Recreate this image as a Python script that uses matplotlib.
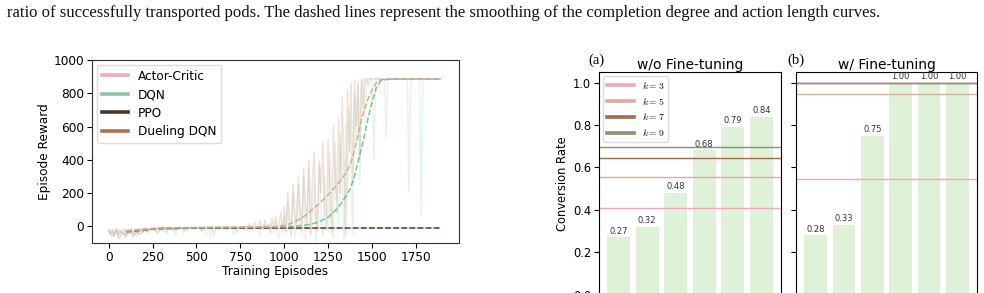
import numpy as np
import matplotlib
matplotlib.use("Agg")
import matplotlib.pyplot as plt
from matplotlib.lines import Line2D

plt.rcParams['font.family'] = ['DejaVu Sans']
plt.rcParams['mathtext.fontset'] = 'cm'

# ---------------- data: left panel ----------------
series_names = ["Actor-Critic", "DQN", "PPO", "Dueling DQN"]
series_colors = ["#f2a9c2", "#86c9a0", "#4a3828", "#b66d4a"]

raw_step_dqn = 10
dqn_raw = [
    -20, -45, -15, -55, -30, -60, -18, -40, -25, -70, -20, -35, -50, -15, -45, -25, -65, -20, -30, -15, -40, -10, -25, -18, -30,
    -10, -8, -20, -6, -12, -5, -40, -8, -6, -10, -5, -15, -7, -60, -6, -9, -5, -12, -6, -8, -30, -5, -7, -10, -6,
    -5, -8, -4, -20, -6, -5, -9, -4, -70, -6, -5, -8, -12, -4, -6, -5, -25, -4, -7, -5, -6, -50, -4, -5, -8,
    -4, -6, -5, -10, -4, -30, -5, -3, -8, -4, -6, -60, -3, -5, 10, -8, -4, 20, -15, -5, 30, -10, -70, 15, -5,
    60, -50, 150, -20, 30, 200, -70, 80, 250, -30, 10, 300, -80, 120, 350, -40, 50, 280, -90, 150, 400, 0, -60, 300, 100,
    -30, 450, 100, -70, 500, 200, -20, 550, 300, -90, 620, 150, 700, 400, -50, 800, 500, 850, 250, 870, 880, 600, 886, 884, 890,
    885, 400, 890, 884, 888, 886, 891, 883, 530, 889, 887, 885, 890, 884, 888, 886, 889, 885, 887, 883, 890, 200, 886, 888, 884,
    887, 885, 889, 60, 886, 888, 884, 890, 885, 887, 889, 884, 886, 888, 887,
]
dueling_raw = [
    -25, -50, -20, -60, -35, -15, -55, -30, -45, -20, -65, -25, -40, -15, -50, -30, -20, -45, -15, -35, -25, -12, -40, -20, -15,
    -12, -6, -25, -8, -5, -15, -7, -4, -45, -6, -9, -5, -20, -6, -8, -5, -10, -4, -35, -6, -5, -8, -4, -15, -6,
    -5, -7, -4, -30, -5, -6, -4, -8, -5, -4, -55, -6, -5, -4, -10, -5, -6, -4, -20, -5, -4, -7, -5, -40, -4,
    -5, -4, -8, -3, -5, 15, -6, -4, 25, -10, -5, 35, -3, -20, 40, -6, 10, -40, 50, -5, 60, -15, 20, 80, -30,
    120, -30, 200, 40, -60, 250, 80, -20, 300, 100, -40, 350, 150, 0, 400, -50, 280, 450, 60, -30, 380, 200, 500, 100, -20,
    520, 150, -40, 600, 300, 80, 650, 200, 780, 350, -60, 820, 450, 860, 250, 880, 600, 870, 400, 885, 700, 890, 880, 850, 888,
    884, 888, 886, 890, 885, 887, 889, 884, 886, 888, 890, 885, 887, 889, 884, 886, 888, 885, 890, 887, 884, 889, 886, 888, 885,
    887, 889, 884, 886, 890, 885, 888, 886, 884, 889, 887, 885, 888, 886, 890,
]
raw_step_flat = 20
ac_raw = [
    -15, -35, -12, -40, -20, -30, -14, -45, -18, -25, -12, -20, -10, -15, -30, -11, -9, -13, -10, -25, -9, -12, -10, -8, -11,
    -9, -10, -8, -60, -9, -11, -8, -10, -9, -7, -12, -9, -8, -10, -30, -9, -8, -11, -9, -10, -8, -9, -40, -10, -9,
    -8, -10, -9, -11, -8, -9, -10, -8, -12, -9, -10, -8, -9, -11, -10, -8, -9, -10, -9, -8, -11, -9, -10, -8, -9,
    -10, -9, -8, -10, -11, -9, -10, -8, -9, -10, -9, -11, -8, -10, -9, -10, -8, -9, -10, -9,
]
ppo_raw = [
    -30, -60, -20, -75, -40, -55, -25, -65, -35, -50, -20, -30, -15, -25, -40, -12, -10, -18, -12, -20, -10, -14, -11, -9, -12,
    -10, -11, -9, -12, -10, -9, -11, -10, -9, -12, -10, -9, -11, -10, -12, -9, -10, -11, -9, -10, -11, -9, -10, -12, -10,
    -11, -10, -9, -12, -10, -11, -9, -10, -12, -9, -10, -11, -10, -9, -12, -10, -11, -9, -10, -11, -9, -10, -12, -10, -9,
    -10, -11, -9, -10, -12, -10, -9, -11, -10, -9, -10, -12, -10, -11, -9, -10, -11, -10, -9, -10,
]

# smoothed curves (dashed)
smooth_x_flat = [100, 150, 200, 250, 300, 400, 500, 700, 900, 1200, 1500, 1890]
ac_smooth = [-25, -21, -17, -14, -12, -11, -10, -10, -10, -10, -10, -10]
ppo_smooth = [-32, -28, -22, -17, -14, -12, -11, -10, -10, -10, -10, -10]

smooth_x = [100, 150, 200, 250, 300, 400, 500, 600, 700, 800, 900, 950, 1000, 1050, 1100, 1150, 1200, 1250,
            1300, 1325, 1350, 1375, 1400, 1425, 1450, 1475, 1500, 1525, 1550, 1575, 1600, 1700, 1800, 1890]
dqn_smooth = [-30, -25, -20, -15, -12, -9, -8, -7, -6, -5, -4, -4, -3, 0, 5, 12, 28, 55,
              105, 140, 180, 225, 300, 410, 515, 640, 750, 835, 875, 882, 884, 885, 886, 886]
dueling_smooth = [-30, -25, -20, -15, -12, -9, -8, -7, -6, -5, -4, -2, 5, 22, 50, 92, 138, 190,
                  248, 282, 320, 370, 455, 580, 680, 760, 820, 865, 882, 884, 885, 885, 886, 886]

# ---------------- data: right panels ----------------
bar_positions = [0, 1, 2, 3, 4, 5]
conv_no_ft = [0.27, 0.32, 0.48, 0.68, 0.79, 0.84]
conv_ft = [0.28, 0.33, 0.75, 1.00, 1.00, 1.00]
k_labels = [r"$k=3$", r"$k=5$", r"$k=7$", r"$k=9$"]
k_colors = ["#f2a6bf", "#dcae98", "#a8684a", "#85936f"]
k_no_ft = [0.41, 0.553, 0.643, 0.696]
k_ft = [0.545, 0.945, 0.996, 0.998]

caption = ("ratio of successfully transported pods. The dashed lines represent the smoothing "
           "of the completion degree and action length curves.")

# ---------------- figure ----------------
W, H = 984, 293
fig = plt.figure(figsize=(W / 100, H / 100), dpi=100)

def ax_rect(l, r, t, b):
    return [l / W, 1 - b / H, (r - l) / W, (b - t) / H]

fig.text(7 / W, 1 - 16.7 / H, caption, fontfamily="Liberation Serif", fontsize=11.95,
         va="baseline", ha="left", color="#111111")

# left panel
ax = fig.add_axes(ax_rect(92, 459, 60, 243))
fs = 8.7
raw_sets = [
    (ac_raw, raw_step_flat, 0, 0.8),
    (dqn_raw, raw_step_dqn, 1, 1.1),
    (ppo_raw, raw_step_flat, 2, 0.8),
    (dueling_raw, raw_step_dqn, 3, 1.1),
]
for vals, step, ci, lw in raw_sets:
    xs = np.arange(len(vals)) * step
    ax.plot(xs, vals, color=series_colors[ci], alpha=0.2, lw=lw)
ax.plot(smooth_x_flat, ac_smooth, color=series_colors[0], ls="--", lw=1.1, alpha=0.9)
ax.plot(smooth_x_flat, ppo_smooth, color=series_colors[2], ls="--", lw=1.1, alpha=0.9)
ax.plot(smooth_x, dqn_smooth, color="#6dbd8a", ls="--", lw=1.1, alpha=0.9)
ax.plot(smooth_x, dueling_smooth, color="#e0a083", ls="--", lw=1.1, alpha=0.9)
ax.set_xlim(-95, 1995)
ax.set_ylim(-100, 1000)
ax.set_xticks([0, 250, 500, 750, 1000, 1250, 1500, 1750])
ax.set_yticks([0, 200, 400, 600, 800, 1000])
ax.tick_params(labelsize=fs, length=3.5, pad=2)
ax.set_xlabel("Training Episodes", fontsize=fs, labelpad=1)
ax.set_ylabel("Episode Reward", fontsize=fs, labelpad=2)
for s in ax.spines.values():
    s.set_color("#333333")
handles = [Line2D([0], [0], color=c, lw=2.6) for c in series_colors]
ax.legend(handles, series_names, loc="upper left", fontsize=fs, handlelength=2.2,
          borderaxespad=0.4, framealpha=1, edgecolor="#dddddd", labelspacing=0.45)

# right panels
fs2 = 8.3
axa = fig.add_axes(ax_rect(599, 781, 72, 294.6))
axb = fig.add_axes(ax_rect(796, 977, 72, 294.6), sharey=axa)
for axp, vals, kv, title in [(axa, conv_no_ft, k_no_ft, "w/o Fine-tuning"),
                             (axb, conv_ft, k_ft, "w/ Fine-tuning")]:
    axp.bar(bar_positions, vals, width=0.8, color="#dff1d8")
    for xp, v in zip(bar_positions, vals):
        axp.text(xp, v + 0.008, f"{v:.2f}", ha="center", va="bottom", fontsize=6, color="#333333")
    for lab, c, y in zip(k_labels, k_colors, kv):
        axp.axhline(y, color=c, lw=1.0, label=lab)
    axp.set_title(title, fontsize=10, pad=2.5)
    axp.set_xticks([])
    axp.set_ylim(0, 1.05)
    axp.tick_params(labelsize=fs2, length=3.5, pad=2)
axa.set_yticks([0.0, 0.2, 0.4, 0.6, 0.8, 1.0])
axa.set_ylabel("Conversion Rate", fontsize=fs2, labelpad=3)
plt.setp(axb.get_yticklabels(), visible=False)
khandles = [Line2D([0], [0], color=c, lw=2.6) for c in k_colors]
axa.legend(khandles, k_labels, loc="upper left", fontsize=7, handlelength=2.8,
           borderaxespad=0.4, framealpha=1, edgecolor="#dddddd")

fig.text(596 / W, 1 - 60 / H, "(a)", fontfamily="Liberation Serif", fontsize=10.5, ha="center", va="center")
fig.text(796 / W, 1 - 60 / H, "(b)", fontfamily="Liberation Serif", fontsize=10.5, ha="center", va="center")

fig.savefig("out.png", dpi=100)
